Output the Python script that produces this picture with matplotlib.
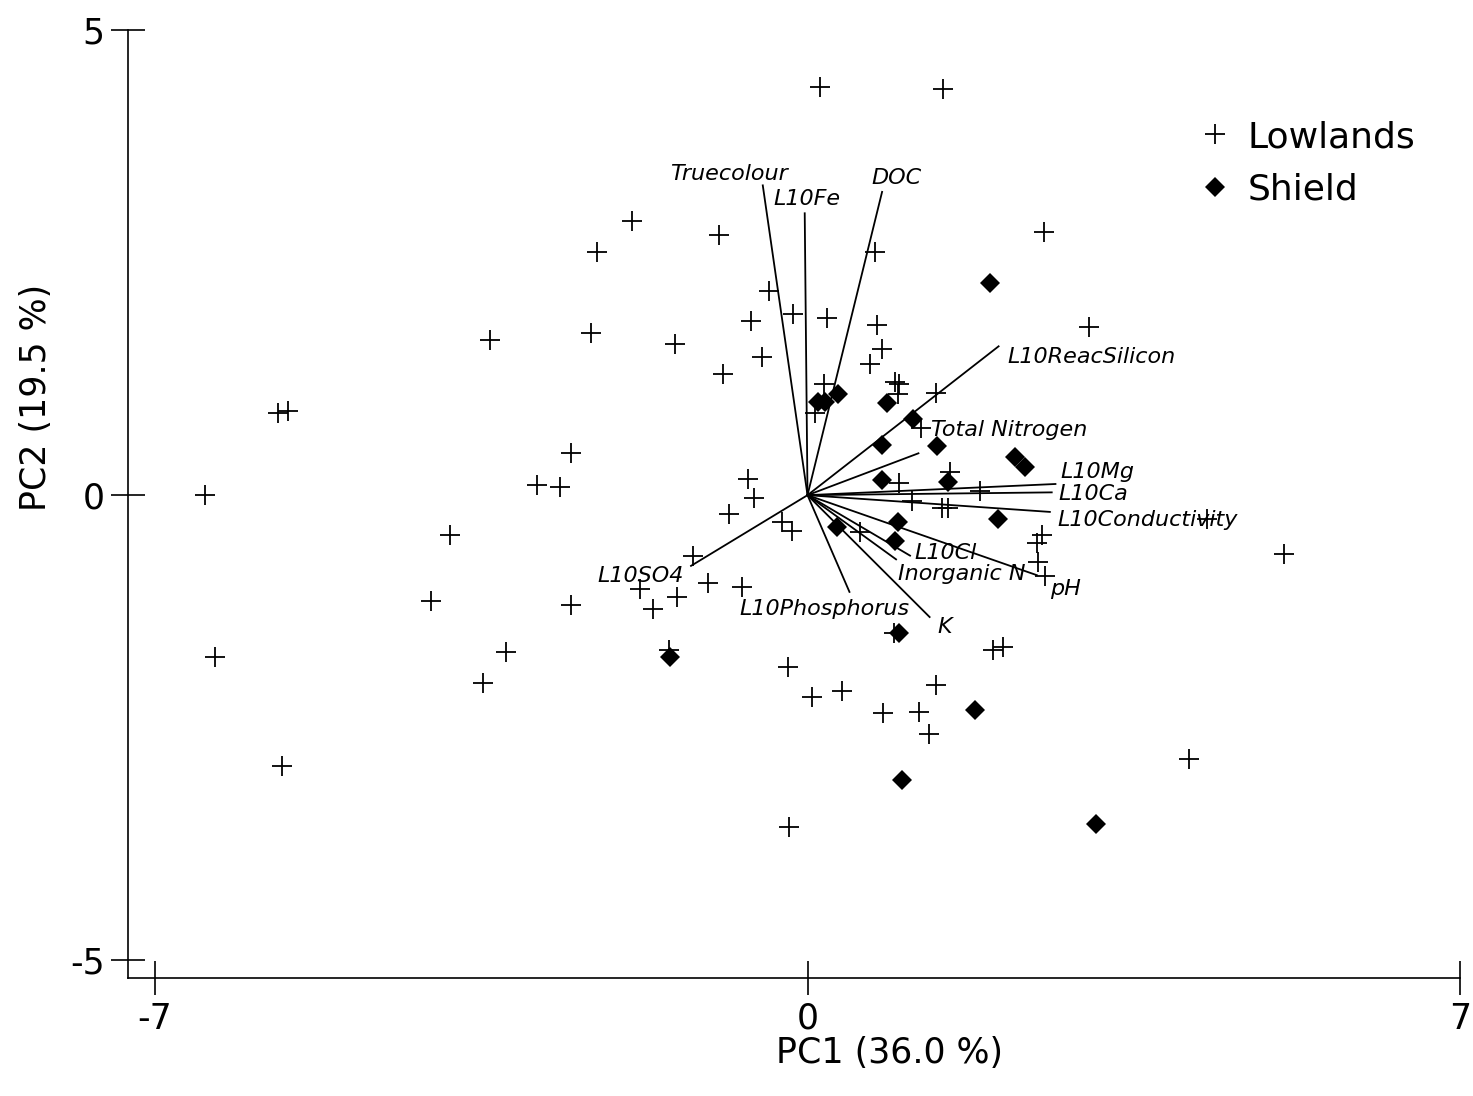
import numpy as np
import matplotlib
matplotlib.use("Agg")
import matplotlib.pyplot as plt

plt.rcParams['font.family'] = ['DejaVu Sans']
plt.rcParams['axes.unicode_minus'] = False

# PCA scores: Lowlands sites (PC1, PC2)
low_x = [0.13, 1.45, -1.88, 2.54, -0.95, -2.26, 0.72, -0.41, -0.16, 0.21,
         -0.61, 0.75, 3.02, -2.32, -3.41, -1.42, 0.80, -0.49, 0.67, -0.91,
         0.94, 0.98, 0.97, 0.18, 1.38, 0.08, -5.68, -5.57, 1.22, -2.54,
         -0.64, -2.90, -2.66, -6.46, -0.57, 1.85, 1.53, 0.98, 1.12, 1.44,
         1.51, -0.84, -0.27, -0.17, 4.29, 2.52, 2.46, -3.84, 0.56, -1.23,
         2.47, 2.55, -1.80, -1.07, -0.70, -1.40, -4.04, -2.54, -1.66, 5.11,
         0.93, 1.99, 2.10, -3.23, -1.49, -6.36, -0.21, 1.38, -3.48, 0.37,
         0.05, 0.81, 1.20, 1.30, 4.09, -5.64, -0.20]
low_y = [4.39, 4.37, 2.95, 2.83, 2.80, 2.61, 2.61, 2.19, 1.95, 1.90,
         1.87, 1.83, 1.81, 1.74, 1.67, 1.63, 1.57, 1.48, 1.41, 1.30,
         1.22, 1.20, 1.09, 1.20, 1.10, 0.88, 0.88, 0.90, 0.72, 0.45,
         0.17, 0.11, 0.09, 0.00, -0.03, 0.05, 0.25, 0.13, -0.06, -0.14,
         -0.14, -0.20, -0.29, -0.38, -0.26, -0.43, -0.51, -0.43, -0.40, -0.65,
         -0.72, -0.87, -1.01, -0.94, -0.99, -1.09, -1.14, -1.18, -1.22, -0.63,
         -1.48, -1.66, -1.63, -1.69, -1.66, -1.74, -1.85, -2.04, -2.02, -2.11,
         -2.17, -2.34, -2.33, -2.57, -2.84, -2.91, -3.57]

# PCA scores: Shield sites
shield_x = [1.96, 0.11, 0.19, 0.33, 0.85, 1.13, 0.80, 1.39, 2.23, 2.33,
            0.80, 1.51, 2.04, 0.32, 0.97, 0.94, 0.98, -1.48, 1.80, 1.01, 3.10]
shield_y = [2.28, 1.00, 1.00, 1.09, 0.99, 0.82, 0.54, 0.53, 0.41, 0.30,
            0.16, 0.14, -0.26, -0.34, -0.29, -0.49, -1.48, -1.74, -2.31, -3.06, -3.53]

# variable loadings (scaled) and where their names sit
var_names = ['Truecolour', 'L10Fe', 'DOC', 'L10ReacSilicon', 'Total Nitrogen',
             'L10Mg', 'L10Ca', 'L10Conductivity', 'L10Cl', 'Inorganic N',
             'pH', 'K', 'L10Phosphorus', 'L10SO4']
load_x = [-0.48, -0.03, 0.80, 2.05, 1.19, 2.66, 2.62, 2.60, 1.10, 0.95,
          2.46, 1.31, 0.45, -1.25]
load_y = [3.33, 3.03, 3.26, 1.60, 0.45, 0.12, 0.03, -0.18, -0.65, -0.69,
          -0.86, -1.31, -1.04, -0.76]
lab_x = [-0.84, -0.37, 0.69, 2.14, 1.33, 2.71, 2.69, 2.68, 1.15, 0.97,
         2.60, 1.39, -0.73, -2.25]
lab_y = [3.47, 3.20, 3.43, 1.51, 0.72, 0.27, 0.03, -0.25, -0.60, -0.83,
         -0.99, -1.40, -1.20, -0.85]
lab_ha = ['center'] + ['left'] * 13

fig = plt.figure(figsize=(14.73, 10.96), dpi=100)
ax = fig.add_axes([128 / 1473, 1 - 978 / 1096, 1332 / 1473, 948 / 1096])

for lx, ly in zip(load_x, load_y):
    ax.plot([0, lx], [0, ly], color='black', lw=1.3, zorder=2)
for name, tx, ty, ha in zip(var_names, lab_x, lab_y, lab_ha):
    ax.text(tx, ty, name, fontsize=16, style='italic', ha=ha,
            va='center_baseline', zorder=4)

ax.plot(low_x, low_y, linestyle='none', marker='+', color='black',
        markersize=14.5, mew=1.3, label='Lowlands', zorder=3)
ax.plot(shield_x, shield_y, linestyle='none', marker='D', color='black',
        markersize=10.5, mew=0, label='Shield', zorder=3)

ax.set_xlim(-7.29, 7.0)
ax.set_ylim(-5.19, 5.0)
ax.set_xticks([-7, 0, 7])
ax.set_yticks([-5, 0, 5])
for side in ['top', 'right']:
    ax.spines[side].set_visible(False)
for side in ['left', 'bottom']:
    ax.spines[side].set_linewidth(1.2)
ax.tick_params(direction='inout', length=24, width=1.2, labelsize=25, pad=5)

ax.set_xlabel('PC1 (36.0 %)', fontsize=25, va='center', ha='center')
ax.set_ylabel('PC2 (19.5 %)', fontsize=25, va='center', ha='center')
ax.xaxis.set_label_coords(0.572, -0.079)
ax.yaxis.set_label_coords(-0.069, 0.612)

ax.legend(loc='upper left', bbox_to_anchor=(1201 / 1473, 1 - 120 / 1096),
          bbox_transform=fig.transFigure, frameon=False, fontsize=26,
          handlelength=0.8, handletextpad=0.5, labelspacing=0.52,
          borderpad=0, borderaxespad=0)

fig.savefig('out.png', dpi=100, facecolor='white')
